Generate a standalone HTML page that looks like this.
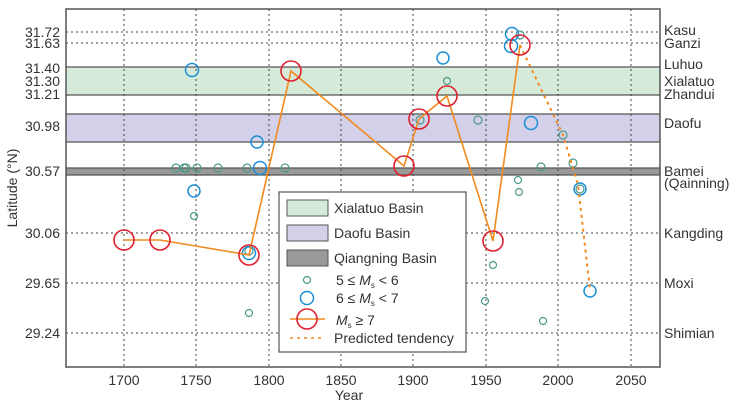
<!DOCTYPE html><html><head><style>body{margin:0;background:#fff}svg{display:block;font-family:"Liberation Sans",Arial,sans-serif}</style></head><body>
<svg width="745" height="406" viewBox="0 0 745 406">
<rect x="66" y="67" width="594" height="28" fill="#d5ead9"/>
<rect x="66" y="114" width="594" height="28" fill="#d3d0ea"/>
<rect x="66" y="168" width="594" height="7" fill="#999"/>
<g stroke="#555" stroke-width="1.2"><line x1="66" x2="660" y1="67" y2="67"/><line x1="66" x2="660" y1="95" y2="95"/><line x1="66" x2="660" y1="114" y2="114"/><line x1="66" x2="660" y1="142" y2="142"/><line x1="66" x2="660" y1="168" y2="168"/><line x1="66" x2="660" y1="175" y2="175"/></g>
<g stroke="#444" stroke-width="1" stroke-dasharray="2,3">
<line x1="124" x2="124" y1="9" y2="367"/><line x1="196" x2="196" y1="9" y2="367"/><line x1="269" x2="269" y1="9" y2="367"/><line x1="341" x2="341" y1="9" y2="367"/><line x1="413" x2="413" y1="9" y2="367"/><line x1="486" x2="486" y1="9" y2="367"/><line x1="558" x2="558" y1="9" y2="367"/><line x1="631" x2="631" y1="9" y2="367"/>
<line x1="66" x2="660" y1="32" y2="32"/><line x1="66" x2="660" y1="43" y2="43"/><line x1="66" x2="660" y1="233" y2="233"/><line x1="66" x2="660" y1="283" y2="283"/><line x1="66" x2="660" y1="333" y2="333"/>
</g>
<rect x="66" y="9" width="594" height="358" fill="none" stroke="#555" stroke-width="1.5"/>
<g font-size="14" fill="#333" text-anchor="end">
<text x="60" y="37">31.72</text><text x="60" y="48">31.63</text><text x="60" y="73">31.40</text><text x="60" y="86">31.30</text><text x="60" y="99">31.21</text><text x="60" y="131">30.98</text><text x="60" y="176">30.57</text><text x="60" y="238">30.06</text><text x="60" y="288">29.65</text><text x="60" y="338">29.24</text></g>
<g font-size="14" fill="#333"><text x="664" y="35">Kasu</text><text x="664" y="48">Ganzi</text><text x="664" y="69">Luhuo</text><text x="664" y="86">Xialatuo</text><text x="664" y="99">Zhandui</text><text x="664" y="128">Daofu</text><text x="664" y="176">Bamei</text><text x="664" y="188">(Qainning)</text><text x="664" y="238">Kangding</text><text x="664" y="288">Moxi</text><text x="664" y="338">Shimian</text></g>
<g font-size="14" fill="#333" text-anchor="middle"><text x="124" y="385">1700</text><text x="196" y="385">1750</text><text x="269" y="385">1800</text><text x="341" y="385">1850</text><text x="413" y="385">1900</text><text x="486" y="385">1950</text><text x="558" y="385">2000</text><text x="631" y="385">2050</text><text x="349" y="400">Year</text>
<text transform="translate(17,188) rotate(-90)">Latitude (°N)</text></g>
<g fill="none" stroke="#4a9a88" stroke-width="1.2">
<circle cx="176" cy="168" r="4"/><circle cx="184" cy="168" r="4"/><circle cx="186" cy="168" r="4"/><circle cx="197" cy="168" r="4"/><circle cx="218" cy="168" r="4"/><circle cx="247" cy="168" r="4"/><circle cx="285" cy="168" r="4"/><circle cx="194" cy="216" r="3.5"/><circle cx="249" cy="251" r="4"/><circle cx="447" cy="81" r="3.5"/><circle cx="478" cy="120" r="4"/><circle cx="541" cy="167" r="4"/><circle cx="563" cy="135" r="4"/><circle cx="573" cy="163" r="4"/><circle cx="518" cy="180" r="3.5"/><circle cx="519" cy="192" r="3.5"/><circle cx="493" cy="265" r="3.5"/><circle cx="485" cy="301" r="3.5"/><circle cx="543" cy="321" r="3.5"/><circle cx="249" cy="313" r="3.5"/><circle cx="520" cy="35" r="4"/><circle cx="420" cy="120" r="4"/><circle cx="580" cy="189" r="4"/></g>
<g fill="none" stroke="#1b8fd6" stroke-width="1.5">
<circle cx="192" cy="70" r="6.5"/><circle cx="194" cy="191" r="6"/><circle cx="257" cy="142" r="6"/><circle cx="260" cy="168" r="6.5"/><circle cx="249" cy="253" r="6.5"/><circle cx="443" cy="58" r="6"/><circle cx="512" cy="34" r="6.5"/><circle cx="511" cy="46" r="6.5"/><circle cx="531" cy="123" r="6.5"/><circle cx="580" cy="189" r="6"/><circle cx="590" cy="291" r="6"/></g>
<polyline points="124,240 160,240 249,255 291,71 404,166 419,119 447,96 493,241 520,45" fill="none" stroke="#f28a1e" stroke-width="1.6"/>
<polyline points="520,45 563,135 578,185 590,290" fill="none" stroke="#f28a1e" stroke-width="2" stroke-dasharray="3,4"/>
<g fill="none" stroke="#e0202e" stroke-width="1.6">
<circle cx="124" cy="240" r="10"/><circle cx="160" cy="240" r="10"/><circle cx="249" cy="255" r="10"/><circle cx="291" cy="71" r="10"/><circle cx="404" cy="166" r="10"/><circle cx="419" cy="119" r="10"/><circle cx="447" cy="96" r="10"/><circle cx="493" cy="241" r="10"/><circle cx="520" cy="45" r="10"/></g>
<rect x="279" y="192" width="187" height="160" fill="#fff" stroke="#555" stroke-width="1.2"/>
<rect x="287" y="200" width="41" height="16" fill="#d5ead9" stroke="#555"/>
<rect x="287" y="225" width="41" height="16" fill="#d3d0ea" stroke="#555"/>
<rect x="287" y="250" width="41" height="16" fill="#999" stroke="#555"/>
<g font-size="14" fill="#333"><text x="334" y="213">Xialatuo Basin</text><text x="334" y="238">Daofu Basin</text><text x="334" y="263">Qiangning Basin</text>
<text x="336" y="285">5 ≤ <tspan font-style="italic">M</tspan><tspan font-size="8" dy="3">s</tspan><tspan dy="-3"> &lt; 6</tspan></text>
<text x="336" y="303">6 ≤ <tspan font-style="italic">M</tspan><tspan font-size="8" dy="3">s</tspan><tspan dy="-3"> &lt; 7</tspan></text>
<text x="336" y="325"><tspan font-style="italic">M</tspan><tspan font-size="8" dy="3">s</tspan><tspan dy="-3"> ≥ 7</tspan></text>
<text x="334" y="343">Predicted tendency</text></g>
<circle cx="307" cy="280" r="3.5" fill="none" stroke="#4a9a88" stroke-width="1.2"/>
<circle cx="307" cy="298" r="6.5" fill="none" stroke="#1b8fd6" stroke-width="1.5"/>
<line x1="290" x2="325" y1="319" y2="319" stroke="#f28a1e" stroke-width="1.6"/>
<circle cx="307" cy="319" r="10" fill="none" stroke="#e0202e" stroke-width="1.6"/>
<line x1="290" x2="325" y1="338" y2="338" stroke="#f28a1e" stroke-width="1.5" stroke-dasharray="3,4"/>
</svg></body></html>
